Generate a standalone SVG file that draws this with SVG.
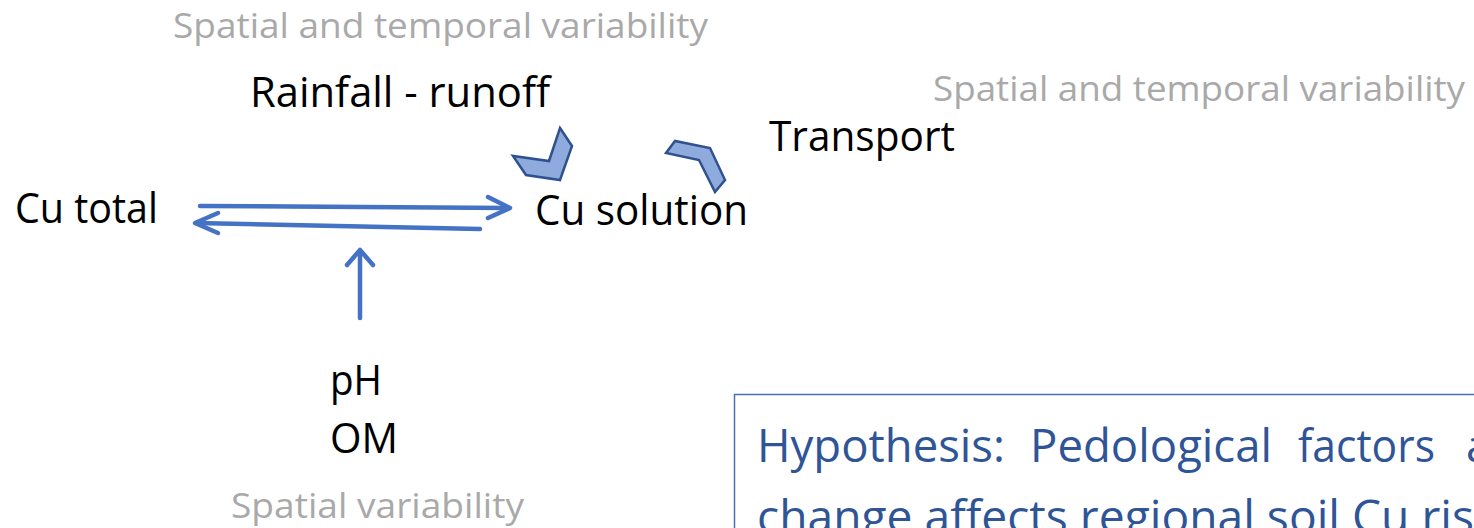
<svg xmlns="http://www.w3.org/2000/svg" width="1474" height="528" viewBox="0 0 1474 528">
<style>
.lbl{font-family:"Open Sans","Liberation Sans",sans-serif;font-size:42px;fill:#000}
.gray{font-family:"Open Sans","Liberation Sans",sans-serif;font-size:35px;fill:#A9A9A9}
.hyp{font-family:"Open Sans","Liberation Sans",sans-serif;font-size:45px;fill:#2F5597}
.arr{fill:none;stroke:#4472C4;stroke-width:4.5;stroke-linecap:round;stroke-linejoin:round}
.chev{fill:#8FAADC;stroke:#2F528F;stroke-width:2.5;stroke-linejoin:miter}
</style>
<rect width="1474" height="528" fill="#fff"/>
<g id="label-top-variability"><text class="gray" x="173" y="38" textLength="535" lengthAdjust="spacingAndGlyphs">Spatial and temporal variability</text></g>
<g id="node-rainfall"><text class="lbl" x="250" y="107" textLength="300" lengthAdjust="spacingAndGlyphs">Rainfall - runoff</text></g>
<g id="label-right-variability"><text class="gray" x="933" y="101" textLength="532" lengthAdjust="spacingAndGlyphs">Spatial and temporal variability</text></g>
<g id="node-transport"><text class="lbl" x="769" y="151" textLength="186" lengthAdjust="spacingAndGlyphs">Transport</text></g>
<g id="node-cu-total"><text class="lbl" x="15" y="223" textLength="143" lengthAdjust="spacingAndGlyphs">Cu total</text></g>
<g id="node-cu-solution"><text class="lbl" x="535" y="225" textLength="213" lengthAdjust="spacingAndGlyphs">Cu solution</text></g>
<g id="node-ph-om">
<text class="lbl" x="330" y="395" textLength="52" lengthAdjust="spacingAndGlyphs">pH</text>
<text class="lbl" x="330" y="453" textLength="68" lengthAdjust="spacingAndGlyphs">OM</text>
</g>
<g id="label-spatial-variability"><text class="gray" x="231" y="518" textLength="293" lengthAdjust="spacingAndGlyphs">Spatial variability</text></g>
<g id="chevron-rainfall"><polygon class="chev" points="560,128 572,146 560,180 526,175 513,156 549,161"/></g>
<g id="chevron-transport"><polygon class="chev" points="666,153 675,141 710,148 725,180 715,192 699,160"/></g>
<g id="connectors">
<line class="arr" x1="200" y1="206" x2="509" y2="208"/>
<polyline class="arr" points="488,197 510,208 488,218"/>
<line class="arr" x1="480" y1="229" x2="196" y2="223"/>
<polyline class="arr" points="218,213 195,223 218,233"/>
<line class="arr" x1="360" y1="318" x2="360" y2="251"/>
<polyline class="arr" points="347,265 360,250 373,265"/>
</g>
<g id="node-hypothesis">
<rect x="734.5" y="394.5" width="760" height="160" fill="none" stroke="#4A6FB5" stroke-width="1.5"/>
<text class="hyp" x="757" y="462" textLength="248" lengthAdjust="spacingAndGlyphs">Hypothesis:</text>
<text class="hyp" x="1030" y="462" textLength="242" lengthAdjust="spacingAndGlyphs">Pedological</text>
<text class="hyp" x="1298" y="462" textLength="137" lengthAdjust="spacingAndGlyphs">factors</text>
<text class="hyp" x="1466" y="462">a</text>
<text class="hyp" x="757" y="533" textLength="717" lengthAdjust="spacingAndGlyphs">change affects regional soil Cu ris</text>
</g>
</svg>
